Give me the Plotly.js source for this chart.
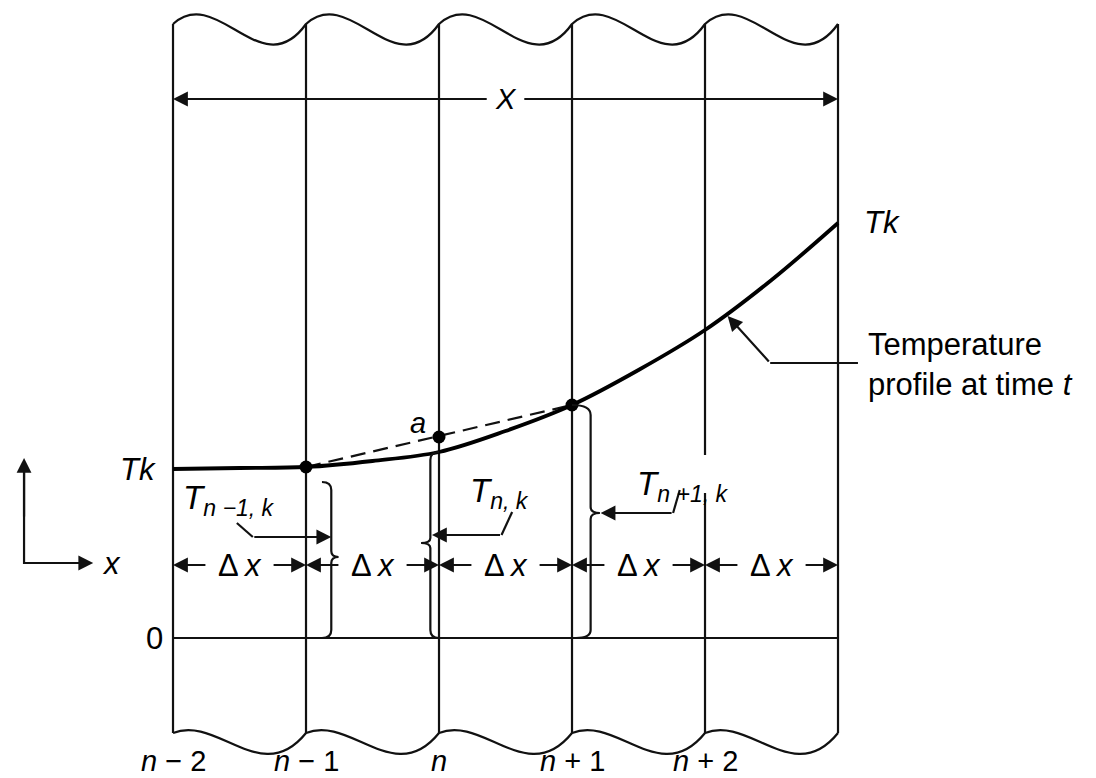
<!DOCTYPE html>
<html>
<head>
<meta charset="utf-8">
<script src="https://cdn.plot.ly/plotly-3.0.1.min.js"></script>
<style>html,body{margin:0;padding:0;background:#fff;}</style>
</head>
<body>
<div id="chart" style="width:1096px;height:778px;"></div>
<script>
// ---------- data (x in node steps, n-2 = 0; T in temperature units, 0 = baseline) ----------
const nodeLabels = ['<i>n</i> − 2', '<i>n</i> − 1', '<i>n</i>', '<i>n</i> + 1', '<i>n</i> + 2'];
const nodePos = [0, 1, 2, 3, 4];
const gridLines = [0, 1, 2, 3, 4, 5];
const profileX = [0, 0.5, 1, 1.5, 2, 2.5, 3, 3.5, 4, 4.5, 5];
const profileT = [1.69, 1.70, 1.71, 1.77, 1.86, 2.07, 2.33, 2.68, 3.08, 3.58, 4.15];
const dotX = [1, 2, 3];
const dotT = [1.71, 2.01, 2.33];
const chordX = [1, 3];
const chordT = [1.71, 2.33];
const cellCenters = [0.5, 1.5, 2.5, 3.5, 4.5];
const topEdgeT = 6.14;
const bottomEdgeT = -0.95;
const spanArrowT = 5.39;
const dxArrowT = 0.73;
const gapLineIndex = 4;           // line n+2 interrupted by the T(n+1,k) label
const gapRange = [1.45, 1.83];
const tkLeftT = 1.69;
const tkRightT = 4.16;

// ---------- helpers ----------
const INK = '#111111';
const FONT = 'Liberation Sans, Arial, Helvetica, sans-serif';
const xr = [-1.3008, 6.9398];
const yr = [-1.40, 6.38];

const traces = [];

// vertical grid lines
(function () {
  const xs = [], ys = [];
  gridLines.forEach((g, i) => {
    if (i === gapLineIndex) {
      xs.push(g, g, null, g, g, null);
      ys.push(topEdgeT, gapRange[1], null, gapRange[0], bottomEdgeT, null);
    } else {
      xs.push(g, g, null);
      ys.push(topEdgeT, bottomEdgeT, null);
    }
  });
  traces.push({x: xs, y: ys, mode: 'lines', line: {color: INK, width: 2.2}, hoverinfo: 'skip'});
})();

// baseline T = 0
traces.push({x: [gridLines[0], gridLines[gridLines.length - 1]], y: [0, 0], mode: 'lines',
  line: {color: INK, width: 2.2}, hoverinfo: 'skip'});

// dashed chord
traces.push({x: chordX, y: chordT, mode: 'lines', line: {color: INK, width: 2.2, dash: '15px,8px'}, hoverinfo: 'skip'});

// temperature profile
traces.push({x: profileX, y: profileT, mode: 'lines', line: {color: '#000', width: 3.8, shape: 'spline', smoothing: 1}, hoverinfo: 'skip'});

// node dots
traces.push({x: dotX, y: dotT, mode: 'markers', marker: {color: '#000', size: 13}, hoverinfo: 'skip'});

// leaders (first segment of each bent leader)
const leaders = [
  {x: [0.48, 0.60], y: [1.15, 1.01]},
  {x: [2.55, 2.47], y: [1.26, 1.03]},
  {x: [3.81, 3.76], y: [1.48, 1.25]},
  {x: [5.15, 4.49], y: [2.75, 2.75]}
];
leaders.forEach(l => traces.push({x: l.x, y: l.y, mode: 'lines', line: {color: INK, width: 2.2}, hoverinfo: 'skip'}));

// coordinate glyph (lower left)
traces.push({x: [-1.12, -1.12, -0.62], y: [1.70, 0.75, 0.75], mode: 'lines', line: {color: INK, width: 2.2}, hoverinfo: 'skip'});

// ---------- shapes: wavy break edges and braces ----------
function wave(level, c1, c2) {
  let p = 'M ' + gridLines[0] + ',' + level;
  for (let i = 0; i < gridLines.length - 1; i++) {
    const a = gridLines[i], b = gridLines[i + 1], w = b - a;
    p += ' C ' + (a + w / 3) + ',' + (level + c1) + ' ' + (a + 2 * w / 3) + ',' + (level + c2) + ' ' + b + ',' + level;
  }
  return p;
}
const shapes = [
  {type: 'path', path: wave(topEdgeT, 0.40, -0.62), line: {color: INK, width: 2.2}, xref: 'x', yref: 'y'},
  {type: 'path', path: wave(bottomEdgeT, 0.18, -0.55), line: {color: INK, width: 2.2}, xref: 'x', yref: 'y'},
  // brace for T(n-1,k)  "}"
  {type: 'path', xref: 'x', yref: 'y', line: {color: INK, width: 2.2},
   path: 'M 1.12,1.56 Q 1.19,1.56 1.19,1.48 L 1.19,0.87 Q 1.19,0.81 1.245,0.81 Q 1.19,0.81 1.19,0.75 L 1.19,0.08 Q 1.19,0.0 1.12,0.0'},
  // brace for T(n,k)  "{"
  {type: 'path', xref: 'x', yref: 'y', line: {color: INK, width: 2.2},
   path: 'M 2.0,1.86 Q 1.935,1.86 1.935,1.78 L 1.935,1.00 Q 1.935,0.95 1.865,0.95 Q 1.935,0.95 1.935,0.90 L 1.935,0.08 Q 1.935,0.0 2.0,0.0'},
  // brace for T(n+1,k)  "}"
  {type: 'path', xref: 'x', yref: 'y', line: {color: INK, width: 2.2},
   path: 'M 3.0,2.33 Q 3.14,2.33 3.14,2.23 L 3.14,1.31 Q 3.14,1.25 3.21,1.25 Q 3.14,1.25 3.14,1.19 L 3.14,0.08 Q 3.14,0.0 3.03,0.0'}
];

// ---------- annotations ----------
const ann = [];
function arrow(x, y, ax, ay) {
  ann.push({x: x, y: y, ax: ax, ay: ay, axref: 'x', ayref: 'y', xref: 'x', yref: 'y', text: '',
    showarrow: true, arrowhead: 2, arrowsize: 1.35, arrowwidth: 2.2, arrowcolor: INK, standoff: 0, startstandoff: 0});
}
function label(x, y, text, size, xanchor, align) {
  ann.push({x: x, y: y, xref: 'x', yref: 'y', text: text, showarrow: false, align: align || 'center',
    xanchor: xanchor || 'center', yanchor: 'middle', font: {family: FONT, size: size, color: '#000'}});
}

// overall span arrow X
const spanMid = (gridLines[0] + gridLines[gridLines.length - 1]) / 2;
arrow(gridLines[0], spanArrowT, spanMid - 0.13, spanArrowT);
arrow(gridLines[gridLines.length - 1], spanArrowT, spanMid + 0.13, spanArrowT);
label(spanMid, spanArrowT, '<i>X</i>', 29);

// delta-x arrows
cellCenters.forEach((c, i) => {
  arrow(gridLines[i], dxArrowT, c - 0.245, dxArrowT);
  arrow(gridLines[i + 1], dxArrowT, c + 0.245, dxArrowT);
  label(c, dxArrowT, 'Δ\u2009<i>x</i>', 31);
});

// leader arrowheads
arrow(1.19, 1.01, 0.60, 1.01);
arrow(1.947, 1.03, 2.47, 1.03);
arrow(3.215, 1.25, 3.76, 1.25);
arrow(4.17, 3.22, 4.49, 2.75);

// coordinate glyph arrowheads
arrow(-1.12, 1.80, -1.12, 1.2);
arrow(-0.60, 0.75, -0.9, 0.75);
label(-0.55, 0.75, '<i>x</i>', 31, 'left');

// node labels
nodePos.forEach((p, i) => label(p, -1.225, nodeLabels[i], 29));

// T labels
label(gridLines[0] - 0.11, tkLeftT, '<i>Tk</i>', 31, 'right');
label(gridLines[gridLines.length - 1] + 0.18, tkRightT, '<i>Tk</i>', 31, 'left');
label(gridLines[0] - 0.06, 0, '0', 31, 'right');
label(1.84, 2.15, '<i>a</i>', 29);
label(0.06, 1.38, '<i>T</i><sub><i>n −1, k</i></sub>', 33, 'left');
label(2.22, 1.45, '<i>T</i><sub><i>n, k</i></sub>', 33, 'left');
label(3.47, 1.52, '<i>T</i><sub><i>n +1, k</i></sub>', 33, 'left');

// profile annotation text
label(5.21, 2.74, 'Temperature<br>profile at time <i>t</i>', 31, 'left', 'left');

const layout = {
  width: 1096, height: 778,
  margin: {l: 0, r: 0, t: 0, b: 0},
  paper_bgcolor: '#fff', plot_bgcolor: '#fff',
  showlegend: false,
  xaxis: {range: xr, visible: false, fixedrange: true},
  yaxis: {range: yr, visible: false, fixedrange: true},
  shapes: shapes,
  annotations: ann,
  font: {family: FONT}
};
Plotly.newPlot('chart', traces, layout, {staticPlot: true, displayModeBar: false});
</script>
</body>
</html>
